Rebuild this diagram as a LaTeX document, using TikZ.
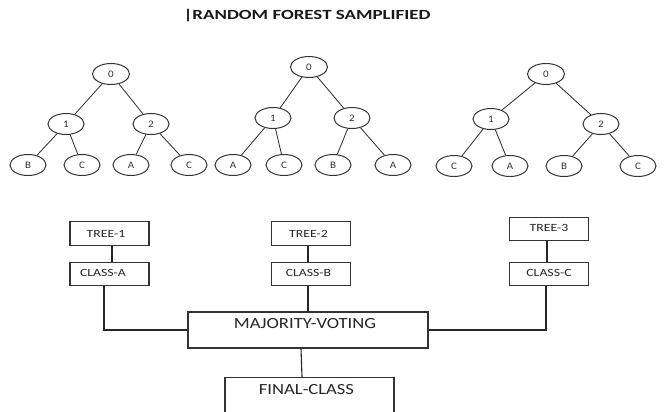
\documentclass[tikz,border=0pt]{standalone}
\usepackage{graphicx}
\usepackage{fontspec}
\setmainfont{Carlito}
\usetikzlibrary{shapes.geometric}
\definecolor{ln}{HTML}{333333}
\newcommand\wideTxt[2]{\scalebox{#1}[1]{#2}}
\begin{document}
\begin{tikzpicture}[x=1pt,y=-1pt,
  tnode/.style={ellipse,draw=ln,line width=1pt,minimum width=36pt,minimum height=21pt,inner sep=0pt,font=\fontsize{10}{10}\selectfont,text=black!80},
  tedge/.style={draw=ln,line width=0.85pt},
  sbox/.style={rectangle,draw=ln,line width=1.1pt,minimum width=79pt,minimum height=23.5pt,inner sep=0pt,font=\fontsize{11}{11}\selectfont,text=black!85},
  bigbox/.style={rectangle,draw=ln,line width=1.1pt,inner sep=0pt,font=\fontsize{15.5}{15.5}\selectfont,text=black!85,text height=10pt},
  conn/.style={draw=black!85,line width=1.1pt}]
\useasboundingbox (0,0) rectangle (664,412);
\clip (0,0) rectangle (664,412);
\fill[white] (0,0) rectangle (664,412);
\node[font=\fontsize{14}{14}\selectfont\bfseries,inner sep=0pt,text=black!90] (title) at (307,16) {\wideTxt{1.35}{|RANDOM FOREST SAMPLIFIED}};
% tree 1
\node[tnode,minimum width=37pt] (a0) at (111,74) {\wideTxt{1.1}{0}};
\node[tnode] (a1) at (66,124) {\wideTxt{1.1}{1}};
\node[tnode] (a2) at (151,124) {\wideTxt{1.1}{2}};
\node[tnode] (a3) at (28,165) {\wideTxt{1.1}{B}};
\node[tnode] (a4) at (82,165) {\wideTxt{1.1}{C}};
\node[tnode] (a5) at (131,165) {\wideTxt{1.1}{A}};
\node[tnode] (a6) at (189,165) {\wideTxt{1.1}{C}};
% tree 2
\node[tnode,minimum width=37pt] (b0) at (309,67) {\wideTxt{1.1}{0}};
\node[tnode] (b1) at (273,118) {\wideTxt{1.1}{1}};
\node[tnode] (b2) at (352,118) {\wideTxt{1.1}{2}};
\node[tnode] (b3) at (233,165) {\wideTxt{1.1}{A}};
\node[tnode] (b4) at (284,165) {\wideTxt{1.1}{C}};
\node[tnode] (b5) at (333,165) {\wideTxt{1.1}{B}};
\node[tnode] (b6) at (393,165) {\wideTxt{1.1}{A}};
% tree 3
\node[tnode,minimum width=37pt] (c0) at (546,74) {\wideTxt{1.1}{0}};
\node[tnode] (c1) at (491,119) {\wideTxt{1.1}{1}};
\node[tnode] (c2) at (601,124) {\wideTxt{1.1}{2}};
\node[tnode] (c3) at (454,166) {\wideTxt{1.1}{C}};
\node[tnode] (c4) at (510,166) {\wideTxt{1.1}{A}};
\node[tnode] (c5) at (564,166) {\wideTxt{1.1}{B}};
\node[tnode] (c6) at (638,166) {\wideTxt{1.1}{C}};
\foreach \t in {a,b,c}{
  \draw[tedge] (\t0) -- (\t1);
  \draw[tedge] (\t0) -- (\t2);
  \draw[tedge] (\t1) -- (\t3);
  \draw[tedge] (\t1) -- (\t4);
  \draw[tedge] (\t2) -- (\t5);
  \draw[tedge] (\t2) -- (\t6);
}
% boxes
\node[sbox] (tr1) at (109.5,233.5) {\wideTxt{1.25}{TREE-1}\hspace*{7pt}};
\node[sbox,text depth=3pt] (ca) at (109.5,274) {\wideTxt{1.25}{CLASS-A}\hspace*{13pt}};
\node[sbox] (tr2) at (311,233.5) {\wideTxt{1.25}{TREE-2}\hspace*{5pt}};
\node[sbox,text depth=3pt] (cb) at (311,274) {\wideTxt{1.25}{CLASS-B}\hspace*{5pt}};
\node[sbox,text depth=3pt] (tr3) at (549,229) {\wideTxt{1.25}{TREE-3}};
\node[sbox,text depth=3pt] (cc) at (549,274) {\wideTxt{1.25}{CLASS-C}};
\node[bigbox,minimum width=240pt,minimum height=36pt,text depth=14pt] (mv) at (308,330) {\wideTxt{1.2}{MAJORITY-VOTING}\hspace*{6pt}};
\node[bigbox,minimum width=169pt,minimum height=43pt,anchor=north,text depth=19pt] (fc) at (309.5,377) {\wideTxt{1.2}{FINAL-CLASS}\hspace*{6pt}};
% connectors
\draw[conn] ([xshift=2.5pt]tr1.south) -- ([xshift=2.5pt]ca.north);
\draw[conn] ([xshift=-5.5pt]ca.south) |- (mv.west);
\draw[conn] ([xshift=-3pt]tr2.south) -- ([xshift=-3pt]cb.north);
\draw[conn] ([xshift=-3pt]cb.south) -- ([xshift=-3pt]cb.south |- mv.north);
\draw[conn] ([xshift=-2pt]tr3.south) -- ([xshift=-2pt]cc.north);
\draw[conn] ([xshift=-3pt]cc.south) |- (mv.east);
\draw[conn] ([xshift=-7pt]mv.south) -- ([xshift=-7.5pt]fc.north);
\end{tikzpicture}
\end{document}
